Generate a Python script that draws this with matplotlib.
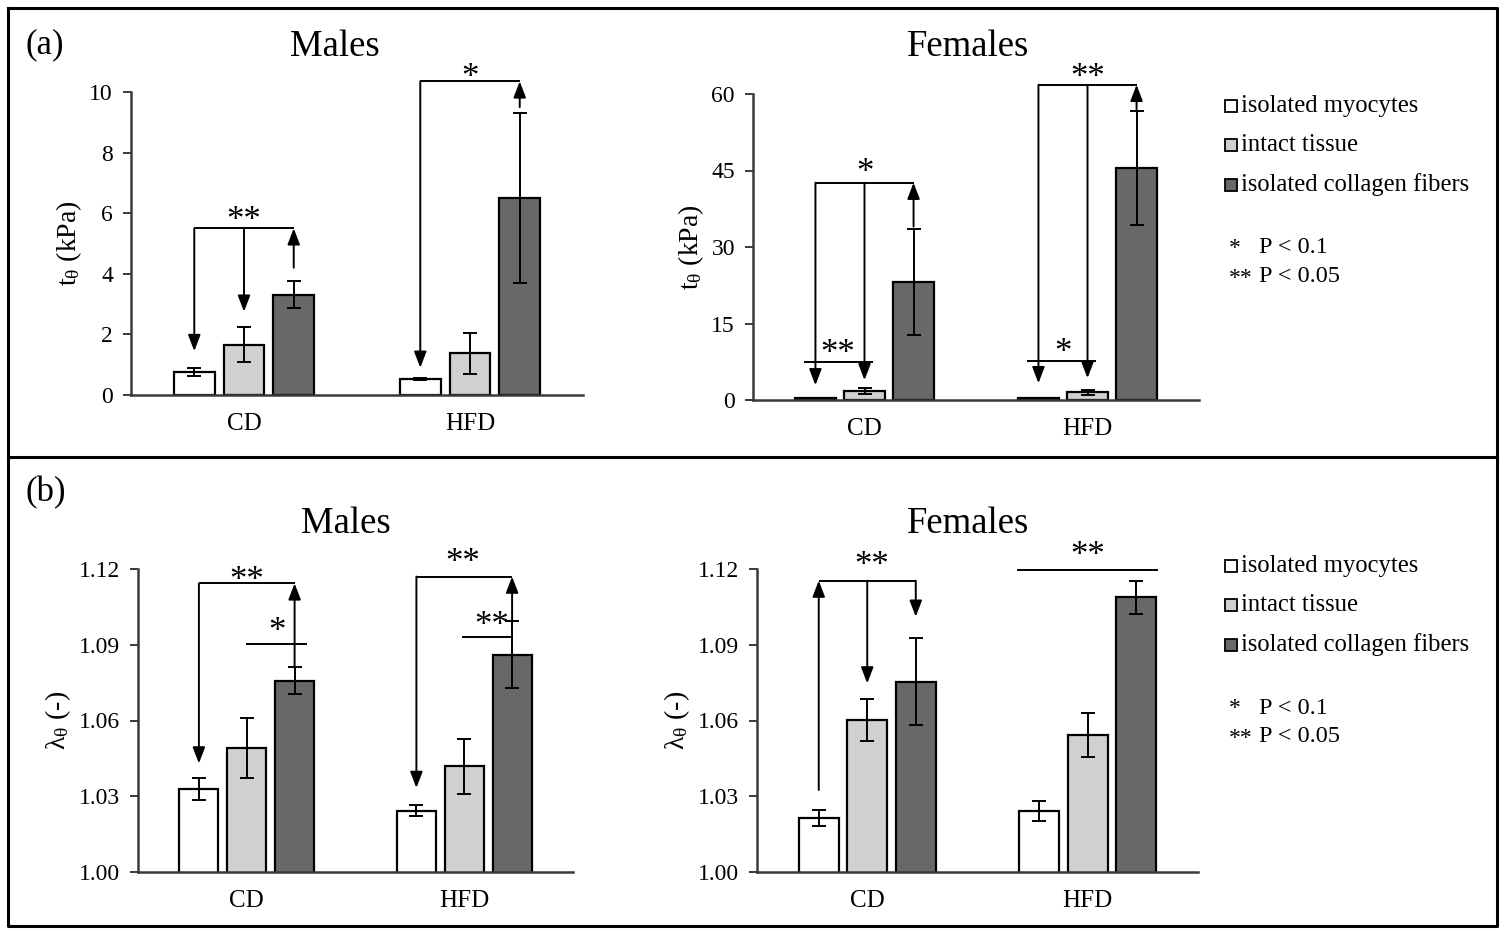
import numpy as np
import matplotlib
matplotlib.use("Agg")
import matplotlib.pyplot as plt
from matplotlib.patches import Rectangle
from matplotlib.lines import Line2D

plt.rcParams['font.family'] = ['Liberation Serif', 'DejaVu Serif']
plt.rcParams['mathtext.fontset'] = 'custom'
plt.rcParams['mathtext.rm'] = 'Liberation Serif'
plt.rcParams['mathtext.it'] = 'Liberation Serif:italic'

# data
groups = ['CD', 'HFD']
series = ['isolated myocytes', 'intact tissue', 'isolated collagen fibers']
colors = ['#ffffff', '#d0d0d0', '#686868']

# (a) t_theta (kPa); rows = series, cols = CD, HFD
t_male = [[0.75, 0.52], [1.66, 1.37], [3.31, 6.50]]
t_male_err = [[0.13, 0.03], [0.57, 0.68], [0.45, 2.80]]
t_female = [[0.30, 0.30], [1.80, 1.50], [23.2, 45.5]]
t_female_err = [[0.15, 0.15], [0.60, 0.55], [10.4, 11.2]]

# (b) lambda_theta (-)
l_male = [[1.0329, 1.0243], [1.0490, 1.0418], [1.0757, 1.0860]]
l_male_err = [[0.0043, 0.0021], [0.0118, 0.0110], [0.0053, 0.0133]]
l_female = [[1.0213, 1.0243], [1.0602, 1.0543], [1.0754, 1.1088]]
l_female_err = [[0.0031, 0.0040], [0.0085, 0.0087], [0.0173, 0.0065]]

# significance marks: brackets (group, level) span bar 0 -> bar 2
# arrows (group, bar, y_from, y_to), lines (x0, x1, y), stars (text, x, y)
am_brackets = [(0, 5.5), (1, 10.35)]
am_arrows = [(0, 0, 5.5, 1.45), (0, 1, 5.5, 2.75), (0, 2, 4.2, 5.5),
             (1, 0, 10.35, 0.9), (1, 2, 9.5, 10.35)]
am_lines = []
am_stars = [('**', 0.0, 6.0), ('*', 1.0, 10.7)]

af_brackets = [(0, 42.6), (1, 61.8)]
af_arrows = [(0, 0, 42.6, 2.9), (0, 1, 42.6, 3.9), (0, 2, 34.0, 42.6),
             (1, 0, 61.8, 3.3), (1, 1, 61.8, 4.3), (1, 2, 57.0, 61.8)]
af_lines = [(-0.27, 0.04, 7.4), (0.73, 1.04, 7.7)]
af_stars = [('*', 0.0, 46.1), ('**', -0.12, 10.6), ('**', 1.0, 64.7), ('*', 0.89, 10.8)]

bm_brackets = [(0, 1.1143), (1, 1.117)]
bm_arrows = [(0, 0, 1.1143, 1.043), (0, 2, 1.081, 1.1143),
             (1, 0, 1.117, 1.0333), (1, 2, 1.0993, 1.117)]
bm_lines = [(-0.005, 0.276, 1.0902), (0.988, 1.223, 1.0929)]
bm_stars = [('**', 0.0, 1.1183), ('*', 0.14, 1.098), ('**', 0.994, 1.1255), ('**', 1.128, 1.1006)]

bf_brackets = [(0, 1.1154)]
bf_arrows = [(0, 0, 1.0325, 1.1154), (0, 1, 1.1154, 1.0747), (0, 2, 1.1154, 1.1011)]
bf_lines = [(0.678, 1.32, 1.1196)]
bf_stars = [('**', 0.02, 1.1242), ('**', 1.0, 1.128)]

W, H = 1505, 933
fig = plt.figure(figsize=(W / 100, H / 100), dpi=100)

def fx(px): return px / W
def fy(py): return 1 - py / H

step, width = 0.22, 0.18
spine_c = '#3a3a3a'

def panel(rect, vals, errs, ylim, yticks, ticklabels, ylabel,
          brackets, arrows, lines, stars):
    l, r, t, b = rect
    ax = fig.add_axes([fx(l), fy(b), fx(r) - fx(l), fy(t) - fy(b)])
    x = np.arange(len(groups))
    for k in range(len(series)):
        ax.bar(x + (k - 1) * step, vals[k], width, yerr=errs[k], color=colors[k],
               edgecolor='black', linewidth=1.6, capsize=5,
               error_kw=dict(elinewidth=1.4, capthick=1.4, ecolor='black'))
    ax.set_xlim(-0.5, 1.5)
    ax.set_ylim(*ylim)
    ax.set_yticks(yticks)
    ax.set_yticklabels(ticklabels, fontsize=17)
    ax.set_xticks(x)
    ax.set_xticklabels(groups, fontsize=18)
    ax.tick_params(axis='x', length=0, pad=13)
    ax.tick_params(axis='y', length=6, width=1.4, color=spine_c, pad=7)
    for s in ['top', 'right']:
        ax.spines[s].set_visible(False)
    for s in ['left', 'bottom']:
        ax.spines[s].set_color(spine_c)
        ax.spines[s].set_linewidth(1.8)
    ax.set_ylabel(ylabel, fontsize=20, labelpad=4)

    def bx(g, i): return g + (i - 1) * step
    lk = dict(color='black', lw=1.4, clip_on=False, solid_capstyle='butt')
    for g, y in brackets:
        ax.plot([bx(g, 0), bx(g, 2)], [y, y], **lk)
    for g, i, y0, y1 in arrows:
        ax.annotate('', xy=(bx(g, i), y1), xytext=(bx(g, i), y0), annotation_clip=False,
                    arrowprops=dict(arrowstyle='-|>,head_length=0.65,head_width=0.25',
                                    mutation_scale=15, color='black', lw=1.4,
                                    shrinkA=0, shrinkB=0))
    for x0, x1, y in lines:
        ax.plot([x0, x1], [y, y], **lk)
    for s, sx, sy in stars:
        ax.annotate(s, (sx, sy), xytext=(0, -12), textcoords='offset points',
                    ha='center', va='baseline', fontsize=25, annotation_clip=False)
    return ax

panel((131, 583, 92, 395), t_male, t_male_err, (0, 10), [0, 2, 4, 6, 8, 10],
      ['0', '2', '4', '6', '8', '10'], r'$\mathregular{t_{\theta}}$ (kPa)',
      am_brackets, am_arrows, am_lines, am_stars)
panel((753, 1199, 94, 400), t_female, t_female_err, (0, 60), [0, 15, 30, 45, 60],
      ['0', '15', '30', '45', '60'], r'$\mathregular{t_{\theta}}$ (kPa)',
      af_brackets, af_arrows, af_lines, af_stars)
lt = [1.00, 1.03, 1.06, 1.09, 1.12]
panel((138, 573, 569, 872), l_male, l_male_err, (1.0, 1.12), lt,
      ['%.2f' % v for v in lt], r'$\mathregular{\lambda_{\theta}}$ (-)',
      bm_brackets, bm_arrows, bm_lines, bm_stars)
panel((757, 1198, 569, 872), l_female, l_female_err, (1.0, 1.12), lt,
      ['%.2f' % v for v in lt], r'$\mathregular{\lambda_{\theta}}$ (-)',
      bf_brackets, bf_arrows, bf_lines, bf_stars)

# titles and panel letters
for s, px, py in [('Males', 335, 47), ('Females', 968, 47), ('Males', 346, 524), ('Females', 968, 524)]:
    fig.text(fx(px), fy(py), s, fontsize=26.5, ha='center', va='center')
fig.text(fx(25), fy(45), '(a)', fontsize=25, va='center')
fig.text(fx(25), fy(493), '(b)', fontsize=25, va='center')

# legends
for y0 in [106, 566]:
    for k, lab in enumerate(series):
        yy = y0 + k * 39.3
        fig.add_artist(Rectangle((fx(1225), fy(yy + 6)), 12 / W, 12 / H, facecolor=colors[k],
                                 edgecolor='black', lw=1.3, transform=fig.transFigure))
        fig.text(fx(1241), fy(yy), lab, fontsize=17.7, va='center')
    fig.text(fx(1229), fy(y0 + 143), '*', fontsize=17, va='center')
    fig.text(fx(1259), fy(y0 + 142), 'P < 0.1', fontsize=17.5, va='center')
    fig.text(fx(1229), fy(y0 + 172), '**', fontsize=17, va='center')
    fig.text(fx(1259), fy(y0 + 171), 'P < 0.05', fontsize=17.5, va='center')

# panel frames
fk = dict(color='black', lw=2.2, transform=fig.transFigure)
fig.add_artist(Line2D([fx(8), fx(1497), fx(1497), fx(8), fx(8)],
                      [fy(8), fy(8), fy(926), fy(926), fy(8)], **fk))
fig.add_artist(Line2D([fx(8), fx(1497)], [fy(457), fy(457)], **fk))

fig.savefig('out.png', dpi=100)
